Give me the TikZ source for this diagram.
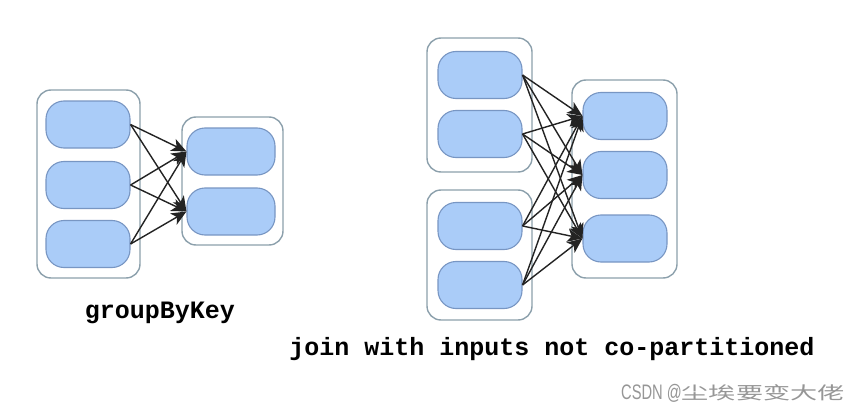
\documentclass[tikz,border=0pt]{standalone}
\usepackage{fontspec}
\newfontfamily\monob{Liberation Mono}
\newfontfamily\wmsans{Liberation Sans}
\newfontfamily\cjk{Noto Sans CJK SC}
\usetikzlibrary{arrows.meta}
\definecolor{partfill}{RGB}{170,204,248}
\definecolor{partdraw}{RGB}{120,150,195}
\definecolor{groupdraw}{RGB}{140,160,172}
\definecolor{arrowc}{RGB}{35,35,35}
\definecolor{wmgray}{RGB}{150,150,150}
\begin{document}
\begin{tikzpicture}[x=1pt,y=-1pt,
  part/.style={draw=partdraw, fill=partfill, line width=1.1pt, rounded corners=18pt,
    minimum width=84pt, minimum height=47pt, inner sep=0pt},
  grp/.style={draw=groupdraw, fill=white, line width=1.4pt, rounded corners=14pt},
  flow/.style={draw=arrowc, line width=1.4pt, -{Stealth[length=15pt,width=13pt,inset=4pt]}},
  lbl/.style={font=\monob\bfseries\fontsize{25}{25}\selectfont, inner sep=0pt}]
\useasboundingbox[fill=white] (0,0) rectangle (865,412);

% groupByKey
\draw[grp] (37,90) rectangle (140,278);
\draw[grp] (182,117) rectangle (283,245);
\node[part] (l1) at (88,124.5) {};
\node[part] (l2) at (88,185) {};
\node[part] (l3) at (88,244) {};
\node[part, minimum width=88pt] (r1) at (231,151.5) {};
\node[part, minimum width=88pt] (r2) at (231,211.5) {};
\foreach \s in {l1,l2,l3}{
  \foreach \t in {r1,r2}{
    \draw[flow] (\s.east) -- (\t.west);
  }
}
\node[lbl, anchor=base] (gbk) at (160,318) {groupByKey};

% join
\draw[grp] (427,38) rectangle (532,172);
\draw[grp] (427,190) rectangle (532,320);
\draw[grp] (572,80) rectangle (677,278);
\node[part] (a1) at (480,75) {};
\node[part] (a2) at (480,134) {};
\node[part] (b1) at (480,226) {};
\node[part] (b2) at (480,285) {};
\node[part] (c1) at (625,116) {};
\node[part] (c2) at (625,175) {};
\node[part] (c3) at (625,238.5) {};
\foreach \s in {a1,a2,b1,b2}{
  \foreach \t in {c1,c2,c3}{
    \draw[flow] (\s.east) -- (\t.west);
  }
}
\node[lbl, anchor=base] (jn) at (552,355) {join with inputs not co-partitioned};

% watermark
\node[anchor=base west, inner sep=0pt, text=wmgray] (wm) at (621,399)
  {{\wmsans\fontsize{21}{21}\selectfont\scalebox{0.7}[1]{CSDN @}}{\cjk\fontsize{17.5}{17.5}\selectfont\scalebox{1.55}[1]{尘埃要变大佬}}};
\end{tikzpicture}
\end{document}
